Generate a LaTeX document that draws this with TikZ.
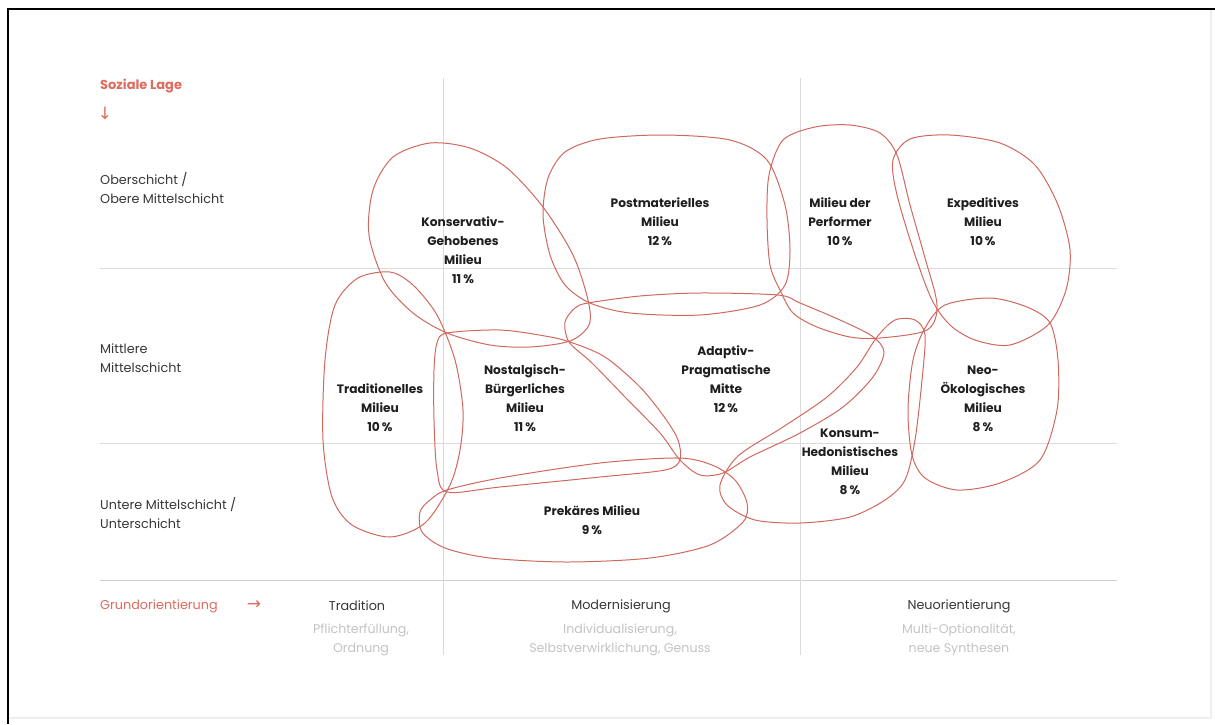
\documentclass[tikz,border=0pt]{standalone}
\usepackage{fontspec}
\setmainfont{Poppins}
\newfontfamily\arrowfont{DejaVu Sans}
\definecolor{milieured}{RGB}{208,104,94}
\definecolor{lagered}{RGB}{222,108,95}
\definecolor{axisgray}{RGB}{55,55,55}
\definecolor{subgray}{RGB}{195,195,195}
\definecolor{gridgray}{RGB}{218,218,218}
\definecolor{framegray}{RGB}{238,238,238}
\tikzset{every node/.append style={inner sep=0pt}}
\tikzset{
  milieu/.style={draw=milieured, line width=1pt},
  gridline/.style={draw=gridgray, line width=0.8pt},
  milieutext/.style={align=center, text=black!88, font=\fontsize{12.2}{19}\selectfont\bfseries},
  schicht/.style={anchor=west, align=left, text=axisgray, font=\fontsize{12.8}{19}\selectfont},
  achse/.style={text=lagered, font=\fontsize{13}{19}\selectfont\bfseries},
  pfeil/.style={text=lagered, font=\arrowfont\fontsize{17}{17}\selectfont},
  orient/.style={align=center, text=axisgray, font=\fontsize{12.8}{19}\selectfont},
  orientsub/.style={align=center, text=subgray, font=\fontsize{12.6}{19}\selectfont}
}

\begin{document}
\begin{tikzpicture}[x=1pt, y=-1pt]
  \useasboundingbox (0,0) rectangle (1215,724);
  \fill[white] (0,0) rectangle (1215,724);
  \draw[framegray, line width=2pt] (1211,10) -- (1211,718) -- (8,718);
  \draw[line width=2.5pt] (8,724) -- (8,9) -- (1215,9);

  % grid
  \draw[gridline] (100,268) -- (1117,268);
  \draw[gridline] (100,443) -- (1117,443);
  \draw[gridline, draw=gridgray!130] (100,580) -- (1117,580);
  \draw[gridline] (443,78) -- (443,655);
  \draw[gridline] (800,78) -- (800,655);

  % milieus
  \draw[milieu] plot[smooth cycle] coordinates {(430,143) (470,148) (507,168) (543,207) (573,255) (588,300) (589,325) (570,341) (530,347) (490,345) (447,333) (413,313) (385,282) (369,235) (373,190) (393,157)};
  \draw[milieu] plot[smooth cycle] coordinates {(663,135) (730,140) (767,160) (785,205) (790,250) (785,285) (760,305) (700,315) (630,313) (590,303) (565,285) (550,255) (543,215) (548,178) (565,152) (600,139)};
  \draw[milieu] plot[smooth cycle] coordinates {(850,125) (880,133) (897,155) (910,205) (925,258) (937,305) (927,330) (880,338) (850,337) (817,327) (793,313) (780,290) (770,265) (767,220) (769,175) (783,140) (815,127)};
  \draw[milieu] plot[smooth cycle] coordinates {(950,135) (1000,143) (1035,165) (1058,205) (1070,250) (1066,290) (1048,325) (1010,345) (975,340) (950,325) (932,300) (915,255) (897,195) (893,160) (910,139)};
  \draw[milieu] plot[smooth cycle] coordinates {(990,298) (1027,307) (1050,323) (1058,360) (1057,410) (1040,460) (1000,483) (957,490) (925,478) (912,455) (908,410) (913,360) (925,328) (945,305)};
  \draw[milieu] plot[smooth cycle] coordinates {(877,337) (895,320) (915,320) (925,335) (922,380) (915,440) (905,480) (885,500) (850,517) (800,523) (755,520) (727,505) (720,485) (738,456) (783,427) (827,397) (857,367)};
  \draw[milieu] plot[smooth cycle] coordinates {(588,303) (640,296) (700,293) (778,295) (800,303) (840,320) (872,336) (884,352) (873,377) (843,407) (800,433) (750,457) (723,473) (700,475) (680,460) (660,433) (625,397) (592,363) (569,342) (565,322) (575,308)};
  \draw[milieu] plot[smooth cycle] coordinates {(447,333) (500,330) (545,336) (570,342) (605,357) (640,387) (665,418) (678,440) (680,460) (665,470) (600,477) (500,487) (447,492) (437,470) (434,420) (434,370) (437,343)};
  \draw[milieu] plot[smooth cycle] coordinates {(447,490) (500,478) (600,463) (678,458) (712,465) (735,480) (747,503) (743,522) (710,545) (650,558) (567,562) (490,558) (445,548) (422,532) (420,512) (430,500)};
  \draw[milieu] plot[smooth cycle] coordinates {(390,272) (413,285) (437,315) (455,360) (463,410) (460,450) (450,485) (425,523) (390,537) (352,525) (332,497) (323,440) (325,360) (335,305) (358,278)};

  % milieu labels
  \node[milieutext] (konservativ) at (463,250) {Konservativ-\\Gehobenes\\Milieu\\11\,\%};
  \node[milieutext] (postmateriell) at (660,222) {Postmaterielles\\Milieu\\12\,\%};
  \node[milieutext] (performer) at (840,222) {Milieu der\\Performer\\10\,\%};
  \node[milieutext] (expeditiv) at (983,222) {Expeditives\\Milieu\\10\,\%};
  \node[milieutext] (traditionell) at (380,408) {Traditionelles\\Milieu\\10\,\%};
  \node[milieutext] (nostalgisch) at (525,398) {Nostalgisch-\\Bürgerliches\\Milieu\\11\,\%};
  \node[milieutext] (adaptiv) at (726,379) {Adaptiv-\\Pragmatische\\Mitte\\12\,\%};
  \node[milieutext] (neooeko) at (983,399) {Neo-\\Ökologisches\\Milieu\\8\,\%};
  \node[milieutext] (konsum) at (850,462) {Konsum-\\Hedonistisches\\Milieu\\8\,\%};
  \node[milieutext] (prekaer) at (592,520) {Prekäres Milieu\\9\,\%};

  % axes
  \node[achse, anchor=west] (lage) at (100,86) {Soziale Lage};
  \node[pfeil] (lagepfeil) at (105,113) {↓};
  \node[schicht] (oben) at (100,188) {Oberschicht /\\Obere Mittelschicht};
  \node[schicht] (mitte) at (100,358) {Mittlere\\Mittelschicht};
  \node[schicht] (unten) at (100,513) {Untere Mittelschicht /\\Unterschicht};

  \node[achse, anchor=west, font=\fontsize{12.8}{19}\selectfont] (grund) at (100,606) {Grundorientierung};
  \node[pfeil] (grundpfeil) at (254,605) {→};
  \node[orient] (tradition) at (357,606) {Tradition};
  \node[orientsub] (traditionsub) at (361,640) {Pflichterfüllung,\\Ordnung};
  \node[orient] (modern) at (621,606) {Modernisierung};
  \node[orientsub] (modernsub) at (620,640) {Individualisierung,\\Selbstverwirklichung, Genuss};
  \node[orient] (neu) at (959,606) {Neuorientierung};
  \node[orientsub] (neusub) at (959,640) {Multi-Optionalität,\\neue Synthesen};
\end{tikzpicture}
\end{document}
